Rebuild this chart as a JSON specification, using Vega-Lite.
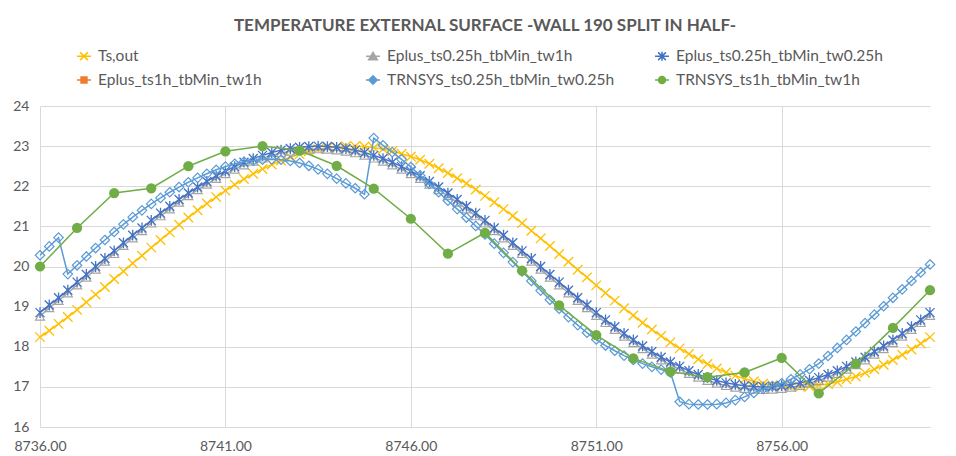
{
"$schema": "https://vega.github.io/schema/vega-lite/v6.json",
"width": 890, "height": 321,
"autosize": {"type": "none"},
"padding": {"left": 40, "top": 106, "right": 26, "bottom": 29},
"background": "white",
"title": {"text": "TEMPERATURE EXTERNAL SURFACE -WALL 190 SPLIT IN HALF-", "anchor": "middle", "font": "Lato", "fontSize": 17, "fontWeight": "bold", "color": "#595959", "offset": 13, "letterSpacing": 1.0},
"datasets": {
"q": [
{"t":8736,"ts":18.24,"e1":18.76,"e2":18.85,"tr":20.28},
{"t":8736.25,"ts":18.40,"e1":18.97,"e2":19.04,"tr":20.50},
{"t":8736.5,"ts":18.57,"e1":19.15,"e2":19.22,"tr":20.72},
{"t":8736.75,"ts":18.74,"e1":19.34,"e2":19.41,"tr":19.81},
{"t":8737,"ts":18.92,"e1":19.54,"e2":19.61,"tr":20.03},
{"t":8737.25,"ts":19.11,"e1":19.73,"e2":19.80,"tr":20.25},
{"t":8737.5,"ts":19.30,"e1":19.93,"e2":20.00,"tr":20.46},
{"t":8737.75,"ts":19.49,"e1":20.13,"e2":20.20,"tr":20.66},
{"t":8738,"ts":19.69,"e1":20.32,"e2":20.39,"tr":20.86},
{"t":8738.25,"ts":19.88,"e1":20.52,"e2":20.59,"tr":21.05},
{"t":8738.5,"ts":20.08,"e1":20.71,"e2":20.78,"tr":21.23},
{"t":8738.75,"ts":20.27,"e1":20.89,"e2":20.96,"tr":21.40},
{"t":8739,"ts":20.47,"e1":21.08,"e2":21.15,"tr":21.56},
{"t":8739.25,"ts":20.66,"e1":21.26,"e2":21.33,"tr":21.71},
{"t":8739.5,"ts":20.85,"e1":21.43,"e2":21.50,"tr":21.85},
{"t":8739.75,"ts":21.04,"e1":21.60,"e2":21.67,"tr":21.98},
{"t":8740,"ts":21.22,"e1":21.76,"e2":21.83,"tr":22.10},
{"t":8740.25,"ts":21.40,"e1":21.91,"e2":21.98,"tr":22.21},
{"t":8740.5,"ts":21.57,"e1":22.05,"e2":22.12,"tr":22.31},
{"t":8740.75,"ts":21.73,"e1":22.19,"e2":22.26,"tr":22.41},
{"t":8741,"ts":21.89,"e1":22.31,"e2":22.38,"tr":22.49},
{"t":8741.25,"ts":22.04,"e1":22.42,"e2":22.49,"tr":22.56},
{"t":8741.5,"ts":22.18,"e1":22.53,"e2":22.60,"tr":22.61},
{"t":8741.75,"ts":22.31,"e1":22.62,"e2":22.69,"tr":22.64},
{"t":8742,"ts":22.43,"e1":22.70,"e2":22.77,"tr":22.66},
{"t":8742.25,"ts":22.54,"e1":22.77,"e2":22.84,"tr":22.67},
{"t":8742.5,"ts":22.64,"e1":22.83,"e2":22.90,"tr":22.66},
{"t":8742.75,"ts":22.72,"e1":22.87,"e2":22.94,"tr":22.63},
{"t":8743,"ts":22.80,"e1":22.90,"e2":22.97,"tr":22.58},
{"t":8743.25,"ts":22.87,"e1":22.92,"e2":22.99,"tr":22.51},
{"t":8743.5,"ts":22.92,"e1":22.93,"e2":23.00,"tr":22.42},
{"t":8743.75,"ts":22.96,"e1":22.92,"e2":22.99,"tr":22.31},
{"t":8744,"ts":22.98,"e1":22.90,"e2":22.97,"tr":22.19},
{"t":8744.25,"ts":23.00,"e1":22.87,"e2":22.94,"tr":22.07},
{"t":8744.5,"ts":23.00,"e1":22.83,"e2":22.90,"tr":21.95},
{"t":8744.75,"ts":22.99,"e1":22.77,"e2":22.84,"tr":21.80},
{"t":8745,"ts":22.96,"e1":22.70,"e2":22.77,"tr":23.20},
{"t":8745.25,"ts":22.93,"e1":22.62,"e2":22.69,"tr":23.02},
{"t":8745.5,"ts":22.88,"e1":22.53,"e2":22.60,"tr":22.85},
{"t":8745.75,"ts":22.81,"e1":22.42,"e2":22.49,"tr":22.67},
{"t":8746,"ts":22.74,"e1":22.31,"e2":22.38,"tr":22.48},
{"t":8746.25,"ts":22.66,"e1":22.19,"e2":22.26,"tr":22.27},
{"t":8746.5,"ts":22.56,"e1":22.05,"e2":22.12,"tr":22.06},
{"t":8746.75,"ts":22.45,"e1":21.91,"e2":21.98,"tr":21.85},
{"t":8747,"ts":22.33,"e1":21.76,"e2":21.83,"tr":21.64},
{"t":8747.25,"ts":22.20,"e1":21.60,"e2":21.67,"tr":21.43},
{"t":8747.5,"ts":22.07,"e1":21.43,"e2":21.50,"tr":21.22},
{"t":8747.75,"ts":21.92,"e1":21.26,"e2":21.33,"tr":21.01},
{"t":8748,"ts":21.76,"e1":21.08,"e2":21.15,"tr":20.80},
{"t":8748.25,"ts":21.60,"e1":20.89,"e2":20.96,"tr":20.57},
{"t":8748.5,"ts":21.43,"e1":20.71,"e2":20.78,"tr":20.34},
{"t":8748.75,"ts":21.26,"e1":20.52,"e2":20.59,"tr":20.11},
{"t":8749,"ts":21.08,"e1":20.32,"e2":20.39,"tr":19.88},
{"t":8749.25,"ts":20.89,"e1":20.13,"e2":20.20,"tr":19.64},
{"t":8749.5,"ts":20.70,"e1":19.93,"e2":20.00,"tr":19.40},
{"t":8749.75,"ts":20.51,"e1":19.73,"e2":19.80,"tr":19.17},
{"t":8750,"ts":20.31,"e1":19.54,"e2":19.61,"tr":18.95},
{"t":8750.25,"ts":20.12,"e1":19.34,"e2":19.41,"tr":18.74},
{"t":8750.5,"ts":19.92,"e1":19.15,"e2":19.22,"tr":18.54},
{"t":8750.75,"ts":19.73,"e1":18.97,"e2":19.04,"tr":18.35},
{"t":8751,"ts":19.53,"e1":18.78,"e2":18.85,"tr":18.18},
{"t":8751.25,"ts":19.34,"e1":18.60,"e2":18.67,"tr":18.03},
{"t":8751.5,"ts":19.15,"e1":18.43,"e2":18.50,"tr":17.90},
{"t":8751.75,"ts":18.96,"e1":18.26,"e2":18.33,"tr":17.78},
{"t":8752,"ts":18.78,"e1":18.10,"e2":18.17,"tr":17.67},
{"t":8752.25,"ts":18.60,"e1":17.95,"e2":18.02,"tr":17.58},
{"t":8752.5,"ts":18.43,"e1":17.81,"e2":17.88,"tr":17.50},
{"t":8752.75,"ts":18.27,"e1":17.67,"e2":17.74,"tr":17.43},
{"t":8753,"ts":18.11,"e1":17.55,"e2":17.62,"tr":17.36},
{"t":8753.25,"ts":17.96,"e1":17.44,"e2":17.51,"tr":16.63},
{"t":8753.5,"ts":17.82,"e1":17.33,"e2":17.40,"tr":16.57},
{"t":8753.75,"ts":17.69,"e1":17.24,"e2":17.31,"tr":16.56},
{"t":8754,"ts":17.57,"e1":17.16,"e2":17.23,"tr":16.56},
{"t":8754.25,"ts":17.46,"e1":17.09,"e2":17.16,"tr":16.57},
{"t":8754.5,"ts":17.36,"e1":17.03,"e2":17.10,"tr":16.60},
{"t":8754.75,"ts":17.28,"e1":16.99,"e2":17.06,"tr":16.67},
{"t":8755,"ts":17.20,"e1":16.96,"e2":17.03,"tr":16.75},
{"t":8755.25,"ts":17.14,"e1":16.94,"e2":17.01,"tr":16.85},
{"t":8755.5,"ts":17.08,"e1":16.93,"e2":17.00,"tr":16.95},
{"t":8755.75,"ts":17.04,"e1":16.94,"e2":17.01,"tr":17.02},
{"t":8756,"ts":17.02,"e1":16.96,"e2":17.03,"tr":17.09},
{"t":8756.25,"ts":17.00,"e1":16.99,"e2":17.06,"tr":17.19},
{"t":8756.5,"ts":17.00,"e1":17.03,"e2":17.10,"tr":17.31},
{"t":8756.75,"ts":17.01,"e1":17.09,"e2":17.16,"tr":17.44},
{"t":8757,"ts":17.04,"e1":17.16,"e2":17.23,"tr":17.58},
{"t":8757.25,"ts":17.07,"e1":17.24,"e2":17.31,"tr":17.77},
{"t":8757.5,"ts":17.12,"e1":17.33,"e2":17.40,"tr":17.97},
{"t":8757.75,"ts":17.19,"e1":17.44,"e2":17.51,"tr":18.17},
{"t":8758,"ts":17.26,"e1":17.55,"e2":17.62,"tr":18.38},
{"t":8758.25,"ts":17.35,"e1":17.67,"e2":17.74,"tr":18.59},
{"t":8758.5,"ts":17.44,"e1":17.81,"e2":17.88,"tr":18.80},
{"t":8758.75,"ts":17.55,"e1":17.95,"e2":18.02,"tr":19.01},
{"t":8759,"ts":17.67,"e1":18.10,"e2":18.17,"tr":19.22},
{"t":8759.25,"ts":17.80,"e1":18.26,"e2":18.33,"tr":19.43},
{"t":8759.5,"ts":17.93,"e1":18.43,"e2":18.50,"tr":19.64},
{"t":8759.75,"ts":18.08,"e1":18.60,"e2":18.67,"tr":19.85},
{"t":8760,"ts":18.24,"e1":18.78,"e2":18.85,"tr":20.05}
],
"h": [
{"t":8736,"v":20.0},{"t":8737,"v":20.96},{"t":8738,"v":21.83},{"t":8739,"v":21.95},{"t":8740,"v":22.50},
{"t":8741,"v":22.87},{"t":8742,"v":23.0},{"t":8743,"v":22.89},{"t":8744,"v":22.51},{"t":8745,"v":21.94},
{"t":8746,"v":21.19},{"t":8747,"v":20.32},{"t":8748,"v":20.84},{"t":8749,"v":19.9},{"t":8750,"v":19.03},
{"t":8751,"v":18.29},{"t":8752,"v":17.71},{"t":8753,"v":17.38},{"t":8754,"v":17.24},{"t":8755,"v":17.36},
{"t":8756,"v":17.72},{"t":8757,"v":16.84},{"t":8758,"v":17.58},{"t":8759,"v":18.47},{"t":8760,"v":19.41}
]
},
"encoding": {
"x": {"field": "t", "type": "quantitative", "scale": {"domain": [8736, 8760], "nice": false, "zero": false}, "axis": {"values": [8736, 8741, 8746, 8751, 8756], "format": ".2f", "title": null, "labelPadding": 12, "labelFlush": false}},
"y": {"field": "v", "type": "quantitative", "scale": {"domain": [16, 24], "nice": false, "zero": false}, "axis": {"values": [16, 17, 18, 19, 20, 21, 22, 23, 24], "title": null, "labelPadding": 11}}
},
"layer": [
{"data": {"name": "q"}, "transform": [{"fold": ["ts"], "as": ["key", "v"]}],
 "mark": {"type": "line", "strokeWidth": 1.5, "point": {"shape": "M-1,-1L1,1M-1,1L1,-1", "size": 90, "filled": false, "strokeWidth": 1.3, "opacity": 1}},
 "encoding": {"color": {"datum": "Ts,out",
   "scale": {"domain": ["Ts,out", "Eplus_ts0.25h_tbMin_tw1h", "Eplus_ts0.25h_tbMin_tw0.25h", "Eplus_ts1h_tbMin_tw1h", "TRNSYS_ts0.25h_tbMin_tw0.25h", "TRNSYS_ts1h_tbMin_tw1h"], "range": ["#FFC000", "#A5A5A5", "#4472C4", "#ED7D31", "#5B9BD5", "#70AD47"]},
   "legend": {"title": null, "orient": "none", "direction": "horizontal", "legendX": 36, "legendY": -58, "columns": 3, "gridAlign": "all", "columnPadding": 37, "rowPadding": 7, "symbolSize": 196, "symbolStrokeWidth": 1.5, "labelFont": "Lato", "labelFontSize": 15.5, "labelColor": "#595959", "labelOffset": 6, "labelLimit": 400}}}},
{"data": {"name": "q"}, "transform": [{"fold": ["e1"], "as": ["key", "v"]}],
 "mark": {"type": "line", "strokeWidth": 1.5, "point": {"shape": "M0,-0.85L1,0.85L-1,0.85Z", "size": 81, "filled": false, "strokeWidth": 1.2, "opacity": 1}},
 "encoding": {"color": {"datum": "Eplus_ts0.25h_tbMin_tw1h"}}},
{"data": {"name": "q"}, "transform": [{"fold": ["e2"], "as": ["key", "v"]}],
 "mark": {"type": "line", "strokeWidth": 1.5, "point": {"shape": "M-1,-1L1,1M-1,1L1,-1M0,-1.2L0,1.2", "size": 81, "filled": false, "strokeWidth": 1.3, "opacity": 1}},
 "encoding": {"color": {"datum": "Eplus_ts0.25h_tbMin_tw0.25h"}}},
{"data": {"name": "q"}, "transform": [{"fold": ["tr"], "as": ["key", "v"]}],
 "mark": {"type": "line", "strokeWidth": 1.5, "point": {"shape": "M0,-1L1,0L0,1L-1,0Z", "size": 90, "filled": false, "strokeWidth": 1.2, "opacity": 1}},
 "encoding": {"color": {"datum": "TRNSYS_ts0.25h_tbMin_tw0.25h"}}},
{"data": {"name": "h"},
 "mark": {"type": "line", "strokeWidth": 1.5, "point": {"shape": "circle", "size": 105, "filled": true, "opacity": 1}},
 "encoding": {"color": {"datum": "TRNSYS_ts1h_tbMin_tw1h"}}},
{"data": {"name": "h"},
 "mark": {"type": "point", "opacity": 0},
 "encoding": {
   "shape": {"datum": "Ts,out",
     "scale": {"domain": ["Ts,out", "Eplus_ts0.25h_tbMin_tw1h", "Eplus_ts0.25h_tbMin_tw0.25h", "Eplus_ts1h_tbMin_tw1h", "TRNSYS_ts0.25h_tbMin_tw0.25h", "TRNSYS_ts1h_tbMin_tw1h"],
       "range": ["M-1,0L1,0M-0.55,-0.55L0.55,0.55M-0.55,0.55L0.55,-0.55", "M-1,0L1,0M0,-0.55L0.62,0.5L-0.62,0.5Z", "M-1,0L1,0M-0.55,-0.55L0.55,0.55M-0.55,0.55L0.55,-0.55M0,-0.65L0,0.65", "M-1,0L1,0M-0.42,-0.42L0.42,-0.42L0.42,0.42L-0.42,0.42Z", "M-1,0L1,0M0,-0.6L0.6,0L0,0.6L-0.6,0Z", "M-1,0L1,0M0.5,0A0.5,0.5,0,1,1,-0.5,0A0.5,0.5,0,1,1,0.5,0Z"]},
     "legend": {"title": null, "orient": "none", "direction": "horizontal", "legendX": 36, "legendY": -58, "columns": 3, "gridAlign": "all", "columnPadding": 37, "rowPadding": 7, "symbolSize": 196, "symbolStrokeWidth": 1.5, "labelFont": "Lato", "labelFontSize": 15.5, "labelColor": "#595959", "labelOffset": 6, "labelLimit": 400}},
   "fill": {"datum": "Ts,out",
     "scale": {"domain": ["Ts,out", "Eplus_ts0.25h_tbMin_tw1h", "Eplus_ts0.25h_tbMin_tw0.25h", "Eplus_ts1h_tbMin_tw1h", "TRNSYS_ts0.25h_tbMin_tw0.25h", "TRNSYS_ts1h_tbMin_tw1h"],
       "range": ["transparent", "transparent", "transparent", "#ED7D31", "transparent", "#70AD47"]},
     "legend": {"title": null, "orient": "none", "direction": "horizontal", "legendX": 36, "legendY": -58, "columns": 3, "gridAlign": "all", "columnPadding": 37, "rowPadding": 7, "symbolSize": 196, "symbolStrokeWidth": 1.5, "labelFont": "Lato", "labelFontSize": 15.5, "labelColor": "#595959", "labelOffset": 6, "labelLimit": 400}}
 }}
],
"config": {
"view": {"stroke": null},
"axis": {"gridColor": "#D9D9D9", "gridWidth": 1, "domain": false, "ticks": false, "labelFont": "Lato", "labelFontSize": 14, "labelColor": "#595959"}
}
}
